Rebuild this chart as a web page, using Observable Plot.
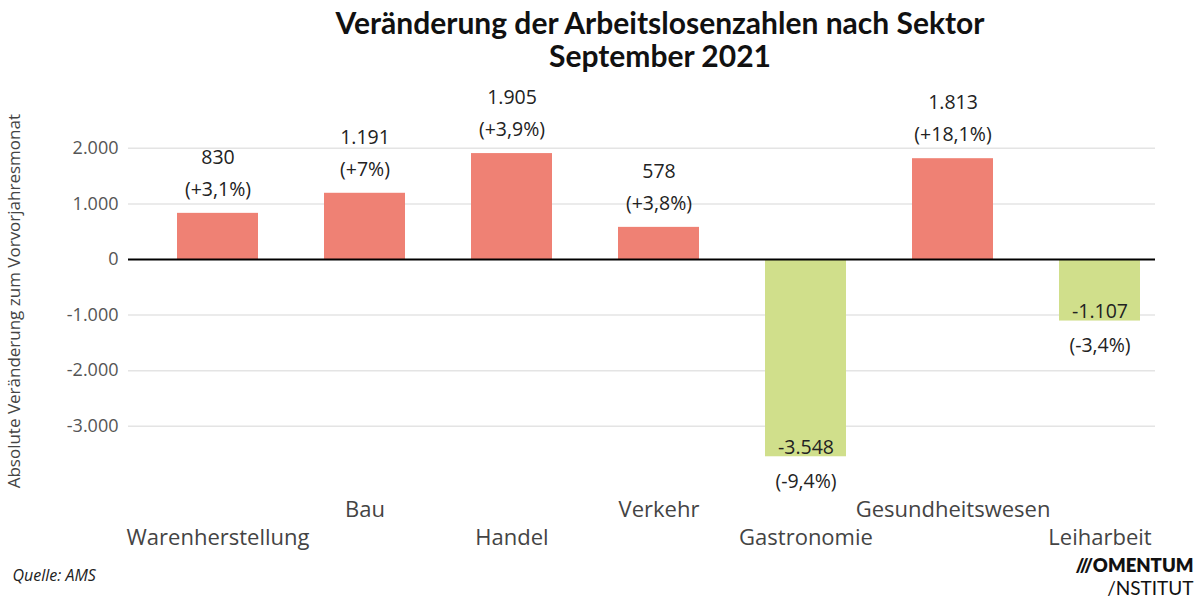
<!DOCTYPE html>
<html><head><meta charset="utf-8">
<script src="https://cdn.jsdelivr.net/npm/d3@7"></script>
<script src="https://cdn.jsdelivr.net/npm/@observablehq/plot@0.6"></script>
<style>
body{margin:0;background:#fff;font-family:"Open Sans",sans-serif;}
#title{height:80px;text-align:center;font-family:Lato,sans-serif;font-weight:700;font-size:30px;line-height:33px;padding-top:6px;padding-left:120px;box-sizing:border-box;color:#111}
#chart svg{display:block}
</style></head><body>
<div id="title">Veränderung der Arbeitslosenzahlen nach Sektor<br>September 2021</div>
<div id="chart"></div>
<script>
const sectors = ["Warenherstellung","Bau","Handel","Verkehr","Gastronomie","Gesundheitswesen","Leiharbeit"];
const changes = [830, 1191, 1905, 578, -3548, 1813, -1107];
const pctLabels = ["(+3,1%)","(+7%)","(+3,9%)","(+3,8%)","(-9,4%)","(+18,1%)","(-3,4%)"];
const gridTicks = [-3000,-2000,-1000,1000,2000];
const yTicks = [-3000,-2000,-1000,0,1000,2000];
const yLabel = "Absolute Veränderung zum Vorvorjahresmonat";
const source = "Quelle: AMS";
const logo = ["///OMENTUM", "/NSTITUT"];

const data = sectors.map((s,i)=>({sector:s, value:changes[i], pct:pctLabels[i]}));
const pos = data.filter(d=>d.value>=0), neg = data.filter(d=>d.value<0);
const de = d3.formatLocale({decimal:",", thousands:".", grouping:[3], currency:["","€"], minus:"-"});
const fmt = de.format(",d");
const upper = sectors.filter((s,i)=>i%2===1), lower = sectors.filter((s,i)=>i%2===0);

const chart = Plot.plot({
  width: 1200, height: 520,
  marginLeft: 128, marginRight: 45, marginTop: 40, marginBottom: 118.6,
  style: {fontFamily: "'Open Sans', sans-serif", background: "#fff"},
  x: {domain: sectors, range: [175.5, 1140.5], paddingInner: 0.45, paddingOuter: 0, axis: null},
  y: {domain: [-4000, 2500], axis: null},
  marks: [
    Plot.gridY(gridTicks, {stroke: "#e4e4e4", strokeOpacity: 1, strokeWidth: 1.5}),
    Plot.axisY(yTicks, {tickSize: 0, tickPadding: 10, tickFormat: fmt, fontSize: 18, fill: "#555", label: null}),
    Plot.axisY([], {tickSize: 0, fontSize: 17, fill: "#444",
      label: yLabel, labelAnchor: "center", labelOffset: 121, labelArrow: "none"}),
    Plot.barY(data, {x: "sector", y: "value", fill: d => d.value >= 0 ? "#ef8174" : "#d0df8b"}),
    Plot.ruleY([0], {stroke: "#000", strokeWidth: 2}),
    Plot.text(pos, {x: "sector", y: "value", text: d => fmt(d.value), dy: -56, fontSize: 19.5, fill: "#222"}),
    Plot.text(pos, {x: "sector", y: "value", text: "pct", dy: -24, fontSize: 19.5, fill: "#222"}),
    Plot.text(neg, {x: "sector", y: "value", text: d => fmt(d.value), dy: -9, fontSize: 19.5, fill: "#222"}),
    Plot.text(neg, {x: "sector", y: "value", text: "pct", dy: 25, fontSize: 19.5, fill: "#222"}),
    Plot.axisX(upper, {tickSize: 0, tickPadding: 0, dy: 19, fontSize: 22, fill: "#444", label: null}),
    Plot.axisX(lower, {tickSize: 0, tickPadding: 0, dy: 47, fontSize: 22, fill: "#444", label: null}),
    Plot.text([source], {frameAnchor: "bottom-left", dx: -116, dy: 99, fontSize: 16, fontStyle: "italic", fill: "#222", textAnchor: "start"}),
    Plot.text([logo[0]], {frameAnchor: "bottom-right", dx: 38, dy: 90, fontSize: 18.5, fontFamily: "Lato, sans-serif", fontWeight: 800, fill: "#111", textAnchor: "end"}),
    Plot.text([logo[1]], {frameAnchor: "bottom-right", dx: 38, dy: 113, fontSize: 19, fontFamily: "Lato, sans-serif", fill: "#111", textAnchor: "end"})
  ]
});
document.getElementById("chart").appendChild(chart);
</script>
</body></html>
